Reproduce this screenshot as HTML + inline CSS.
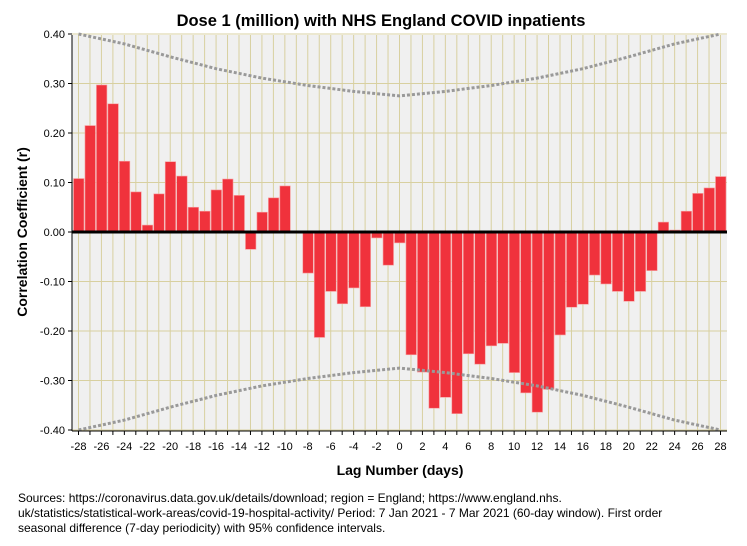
<!DOCTYPE html>
<html><head><meta charset="utf-8"><style>
body{margin:0;background:#fff;font-family:"Liberation Sans",Arial,sans-serif}
svg text{font-family:"Liberation Sans",Arial,sans-serif}
</style></head><body>
<svg id="c" width="747" height="541"></svg>
<script>
const lags=[];for(let k=-28;k<=28;k++)lags.push(k);
const values=[0.108,0.215,0.297,0.259,0.143,0.081,0.014,0.077,0.142,0.113,0.050,0.042,0.085,0.107,0.074,-0.035,0.040,0.069,0.093,0,-0.083,-0.213,-0.120,-0.145,-0.113,-0.151,-0.012,-0.067,-0.022,-0.248,-0.283,-0.356,-0.334,-0.367,-0.246,-0.267,-0.230,-0.225,-0.284,-0.325,-0.364,-0.318,-0.208,-0.152,-0.146,-0.087,-0.105,-0.120,-0.140,-0.120,-0.078,0.020,0.004,0.042,0.078,0.089,0.112];
const ciLags=[0,4,8,12,16,20,24,28];
const ciValues=[0.275,0.284,0.296,0.311,0.330,0.354,0.380,0.404];
const yTicks=[0.4,0.3,0.2,0.1,0,-0.1,-0.2,-0.3,-0.4];
const yTickLabels=["0.40","0.30","0.20","0.10","0.00","-0.10","-0.20","-0.30","-0.40"];
const xTickLabels=[-28,-26,-24,-22,-20,-18,-16,-14,-12,-10,-8,-6,-4,-2,0,2,4,6,8,10,12,14,16,18,20,22,24,26,28];
const L=72,R=727,T=35,B=431;
const X=k=>78.5+(k+28)*(642/56);
const Y=v=>232-v*495;
const svg=document.getElementById('c');const NS='http://www.w3.org/2000/svg';
function mk(t,a,txt){const e=document.createElementNS(NS,t);for(const k in a)e.setAttribute(k,a[k]);if(txt!==undefined)e.textContent=txt;svg.appendChild(e);return e;}
let e=mk('rect',{x:L,y:T,width:R-L,height:B-T,fill:'#f0f0f0'});


lags.forEach(k=>{mk('line',{x1:X(k),x2:X(k),y1:T,y2:B,stroke:'#d8d0a0','stroke-width':1});});
yTicks.forEach((v,i)=>{mk('line',{x1:L,x2:R,y1:Y(v),y2:Y(v),stroke:'#d8d0a0','stroke-width':1});
 const t=mk('text',{x:65,y:Y(v)+4,'text-anchor':'end','font-size':11},yTickLabels[i]);
 
 
 mk('line',{x1:L-4,x2:L,y1:Y(v),y2:Y(v),stroke:'#000'});});
lags.forEach((k,i)=>{const v=values[i];if(v===0)return;
 const b=mk('rect',{x:X(k)-5,y:Math.min(Y(v),Y(0)),width:10.5,height:Math.abs(Y(v)-Y(0)),fill:'#f0323c',stroke:'#f7a0a0','stroke-width':0.6});
 
 });
function ciPath(sign){const pts=[];for(let i=ciLags.length-1;i>=0;i--)pts.push([-ciLags[i],ciValues[i]]);for(let i=1;i<ciLags.length;i++)pts.push([ciLags[i],ciValues[i]]);
 return pts.map((p,i)=>(i?'L':'M')+X(p[0]).toFixed(1)+','+Y(sign*Math.min(p[1],0.4)).toFixed(1)).join('');}
e=mk('path',{d:ciPath(1),fill:'none',stroke:'#999','stroke-width':3,'stroke-dasharray':'3,2'});


e=mk('path',{d:ciPath(-1),fill:'none',stroke:'#999','stroke-width':3,'stroke-dasharray':'3,2'});


mk('line',{x1:L,x2:R,y1:Y(0),y2:Y(0),stroke:'#000','stroke-width':3});
mk('line',{x1:L,x2:L,y1:T,y2:B,stroke:'#000'});
mk('line',{x1:L,x2:R,y1:B,y2:B,stroke:'#000'});
lags.forEach(k=>mk('line',{x1:X(k),x2:X(k),y1:B,y2:B+4,stroke:'#000'}));
xTickLabels.forEach(k=>{const t=mk('text',{x:X(k),y:450,'text-anchor':'middle','font-size':11},String(k));
 
 });
e=mk('text',{x:381,y:26,'text-anchor':'middle','font-size':16.5,'font-weight':'bold'},'Dose 1 (million) with NHS England COVID inpatients');

e=mk('text',{x:400,y:475,'text-anchor':'middle','font-size':14,'font-weight':'bold'},'Lag Number (days)');

e=mk('text',{x:27,y:232,'text-anchor':'middle','font-size':14,'font-weight':'bold',transform:'rotate(-90 27 232)'},'Correlation Coefficient (r)');

const notes=['Sources: https://coronavirus.data.gov.uk/details/download; region = England; https://www.england.nhs.','uk/statistics/statistical-work-areas/covid-19-hospital-activity/ Period: 7 Jan 2021 - 7 Mar 2021 (60-day window). First order','seasonal difference (7-day periodicity) with 95% confidence intervals.'];
notes.forEach((n,i)=>{const t=mk('text',{x:18,y:502+i*15,'font-size':12},n);
 
 });
</script></body></html>
